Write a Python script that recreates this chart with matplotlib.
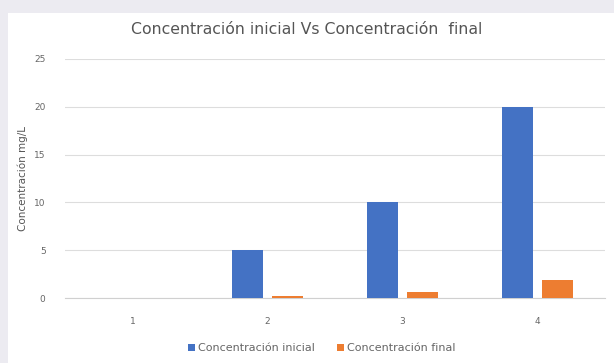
import matplotlib.pyplot as plt
import numpy as np

categorias = ["1", "2", "3", "4"]
conc_inicial = [0, 5, 10, 20]
conc_final = [0, 0.2, 0.65, 1.9]
yticks = [0, 5, 10, 15, 20, 25]

W, H = 614, 363
fig = plt.figure(figsize=(W / 100, H / 100), dpi=100)
fig.patch.set_facecolor("#ecebf1")

# white chart card behind everything
card = fig.add_axes([8 / W, 0, 1 - 8 / W, 1 - 13 / H], zorder=-1)
card.set_facecolor("white")
card.set_xticks([])
card.set_yticks([])
for s in card.spines.values():
    s.set_visible(False)

ax = fig.add_axes([65 / W, 1 - 298 / H, 540 / W, (298 - 59) / H])
ax.set_facecolor("white")
x = np.arange(len(categorias))
w = 0.23
ax.bar(x - w / 2 - 0.03, conc_inicial, w, color="#4472c4", label="Concentración inicial", zorder=3)
ax.bar(x + w / 2 + 0.03, conc_final, w, color="#ed7d31", label="Concentración final", zorder=3)

ax.set_xlim(-0.5, 3.5)
ax.set_ylim(0, 25)
ax.set_yticks(yticks)
ax.set_xticks(x)
ax.set_xticklabels(categorias)
ax.tick_params(length=0, labelsize=6.5, colors="#666666")
ax.tick_params(axis="x", pad=14)
ax.tick_params(axis="y", pad=14)
ax.grid(axis="y", color="#dddddd", linewidth=0.8, zorder=0)
for s in ["top", "right", "left"]:
    ax.spines[s].set_visible(False)
ax.spines["bottom"].set_color("#d0d0d0")
ax.set_ylabel("Concentración mg/L", fontsize=7.5, color="#555555", labelpad=4)

fig.text(0.5, 1 - 30 / H, "Concentración inicial Vs Concentración  final",
         ha="center", va="center", fontsize=11.3, color="#555555")

fig.legend(loc="center", bbox_to_anchor=(322 / W, 1 - 348 / H), ncol=2, frameon=False,
           fontsize=8, labelcolor="#666666", handlelength=0.6, handleheight=0.6,
           handletextpad=0.3, columnspacing=2.0)

fig.savefig("out.png", dpi=100)
